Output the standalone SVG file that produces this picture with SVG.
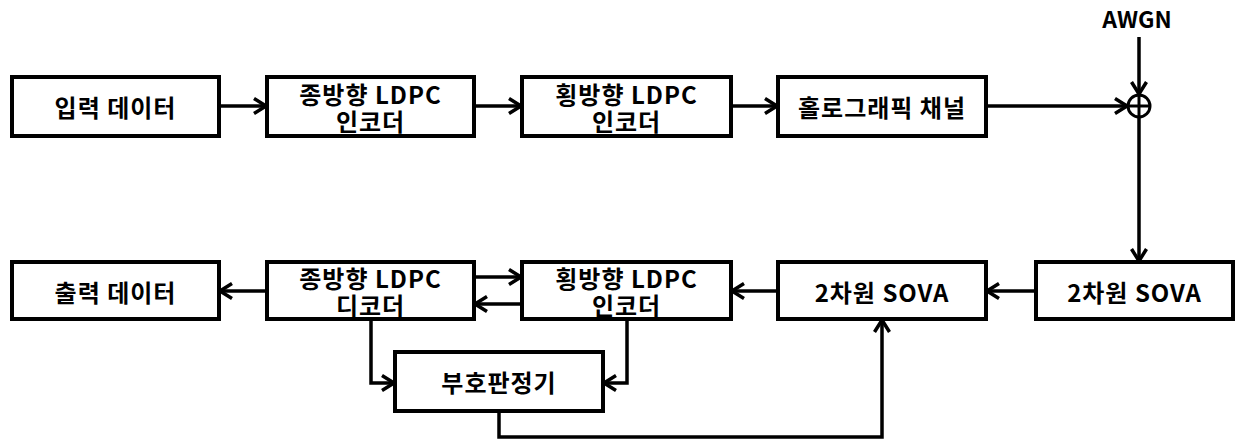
<svg xmlns="http://www.w3.org/2000/svg" width="1245" height="439" viewBox="0 0 1245 439">
<style>
.box{fill:#fff;stroke:#000;stroke-width:4}
.t{font-family:"Noto Sans CJK KR","Noto Sans",sans-serif;font-weight:bold;font-size:24px;letter-spacing:1px;text-anchor:middle;dominant-baseline:central;fill:#000}
.c{fill:none;stroke:#000;stroke-width:3.5}
.a{marker-end:url(#ah)}
</style>
<defs>
<marker id="ah" markerUnits="userSpaceOnUse" markerWidth="17" markerHeight="18" refX="14" refY="9" orient="auto" viewBox="0 0 17 18">
<path d="M2,1.5 L14,9 L2,16.5" fill="none" stroke="#000" stroke-width="3.5" stroke-linejoin="miter"/>
</marker>
</defs>
<g id="connectors">
<line class="c a" x1="219" y1="106" x2="266" y2="106"/>
<line class="c a" x1="474" y1="106" x2="521" y2="106"/>
<line class="c a" x1="731" y1="106" x2="777" y2="106"/>
<line class="c a" x1="986" y1="106" x2="1127" y2="106"/>
<line class="c a" x1="1139" y1="37" x2="1139" y2="94"/>
<line class="c a" x1="1139" y1="118" x2="1139" y2="261"/>
<line class="c a" x1="1036" y1="291" x2="987" y2="291"/>
<line class="c a" x1="778" y1="291" x2="732" y2="291"/>
<line class="c a" x1="474" y1="277" x2="521" y2="277"/>
<line class="c a" x1="522" y1="304" x2="475" y2="304"/>
<line class="c a" x1="267" y1="291" x2="220" y2="291"/>
<polyline class="c a" points="371,319 371,383 394,383"/>
<polyline class="c a" points="627,319 627,383 604,383"/>
<polyline class="c a" points="499,411 499,437 882,437 882,320"/>
</g>
<g id="n_input"><rect class="box" x="12" y="77" width="207" height="59"/><text class="t" x="115.5" y="106">입력 데이터</text></g>
<g id="n_venc"><rect class="box" x="267" y="77" width="207" height="59"/><text class="t"><tspan x="370.5" y="93">종방향 LDPC</tspan><tspan x="370.5" y="120">인코더</tspan></text></g>
<g id="n_henc"><rect class="box" x="522" y="77" width="209" height="59"/><text class="t"><tspan x="626.5" y="93">횡방향 LDPC</tspan><tspan x="626.5" y="120">인코더</tspan></text></g>
<g id="n_holo"><rect class="box" x="778" y="77" width="208" height="59"/><text class="t" x="882" y="106">홀로그래픽 채널</text></g>
<g id="n_sum"><circle cx="1139" cy="106" r="11" fill="#fff" stroke="#000" stroke-width="3"/><line x1="1128" y1="106" x2="1150" y2="106" stroke="#000" stroke-width="3"/><line x1="1139" y1="95" x2="1139" y2="117" stroke="#000" stroke-width="3"/></g>
<g id="n_awgn"><text class="t" x="1137" y="18" style="font-size:23px;letter-spacing:0">AWGN</text></g>
<g id="n_sova2"><rect class="box" x="1036" y="262" width="197" height="57"/><text class="t" x="1134.5" y="291">2차원 SOVA</text></g>
<g id="n_sova1"><rect class="box" x="778" y="262" width="208" height="57"/><text class="t" x="882" y="291">2차원 SOVA</text></g>
<g id="n_hdec"><rect class="box" x="522" y="262" width="209" height="57"/><text class="t"><tspan x="626.5" y="277">횡방향 LDPC</tspan><tspan x="626.5" y="304">인코더</tspan></text></g>
<g id="n_vdec"><rect class="box" x="267" y="262" width="207" height="57"/><text class="t"><tspan x="370.5" y="277">종방향 LDPC</tspan><tspan x="370.5" y="304">디코더</tspan></text></g>
<g id="n_output"><rect class="box" x="12" y="262" width="207" height="57"/><text class="t" x="115.5" y="291">출력 데이터</text></g>
<g id="n_judge"><rect class="box" x="395" y="352" width="208" height="59"/><text class="t" x="499" y="381">부호판정기</text></g>
</svg>
